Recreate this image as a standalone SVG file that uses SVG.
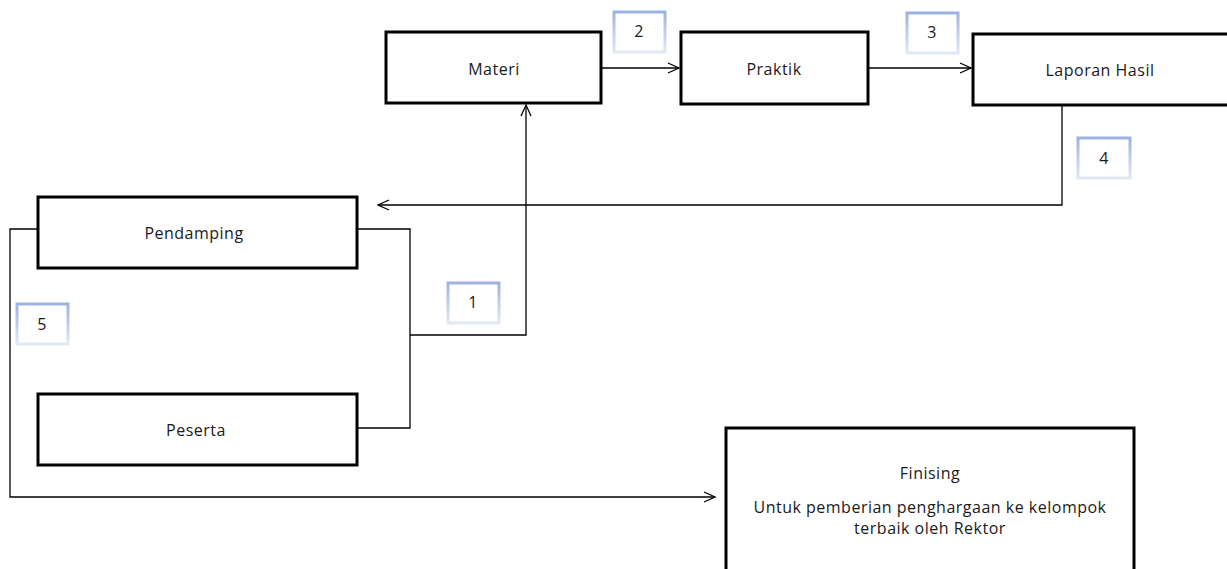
<svg xmlns="http://www.w3.org/2000/svg" width="1227" height="569" viewBox="0 0 1227 569">
<defs>
<linearGradient id="lg" x1="0" y1="0" x2="0" y2="1">
<stop offset="0" stop-color="#9db2de"/>
<stop offset="1" stop-color="#e2e9f6"/>
</linearGradient>
<marker id="arr" markerWidth="14" markerHeight="12" refX="12" refY="6" orient="auto" markerUnits="userSpaceOnUse">
<path d="M1,1 L12,6 L1,11" fill="none" stroke="#000" stroke-width="1.3"/>
</marker>
<style>
.box{fill:#fff;stroke:#000;stroke-width:3}
.lbl{fill:#fff;stroke:url(#lg);stroke-width:3}
.t{font-family:"Open Sans","Liberation Sans",sans-serif;font-size:16px;letter-spacing:0.5px;fill:#1a1a1a;text-anchor:middle}
.c{fill:none;stroke:#000;stroke-width:1.3}
</style>
</defs>
<rect width="1227" height="569" fill="#fff"/>
<g id="connectors">
<polyline class="c" points="357,229 410,229 410,428 357,428"/>
<polyline class="c" points="410,335 526,335 526,105" marker-end="url(#arr)"/>
<polyline class="c" points="38,229 10,229 10,497 715,497" marker-end="url(#arr)"/>
<polyline class="c" points="1062,105 1062,205 378,205" marker-end="url(#arr)"/>
<line class="c" x1="602" y1="68" x2="679" y2="68" marker-end="url(#arr)"/>
<line class="c" x1="868" y1="68" x2="971" y2="68" marker-end="url(#arr)"/>
</g>
<g id="materi"><rect class="box" x="386" y="32" width="215" height="71"/><text class="t" x="494" y="75">Materi</text></g>
<g id="praktik"><rect class="box" x="681" y="32" width="187" height="72"/><text class="t" x="774" y="75">Praktik</text></g>
<g id="laporan"><rect class="box" x="973" y="34" width="258" height="71"/><text class="t" x="1100" y="76">Laporan Hasil</text></g>
<g id="pendamping"><rect class="box" x="38" y="197" width="319" height="71"/><text class="t" x="194" y="239">Pendamping</text></g>
<g id="peserta"><rect class="box" x="38" y="394" width="319" height="71"/><text class="t" x="196" y="436">Peserta</text></g>
<g id="finising"><rect class="box" x="726" y="428" width="408" height="150"/>
<text class="t" x="930" y="479">Finising</text>
<text class="t" x="930" y="513">Untuk pemberian penghargaan ke kelompok</text>
<text class="t" x="930" y="534">terbaik oleh Rektor</text></g>
<g id="label2"><rect class="lbl" x="614" y="12" width="51" height="40"/><text class="t" x="639" y="37">2</text></g>
<g id="label3"><rect class="lbl" x="907" y="13" width="51" height="40"/><text class="t" x="932" y="38">3</text></g>
<g id="label4"><rect class="lbl" x="1078" y="138" width="52" height="40"/><text class="t" x="1104" y="164">4</text></g>
<g id="label1"><rect class="lbl" x="448" y="283" width="51" height="40"/><text class="t" x="473" y="308">1</text></g>
<g id="label5"><rect class="lbl" x="17" y="304" width="51" height="40"/><text class="t" x="42" y="330">5</text></g>
</svg>
